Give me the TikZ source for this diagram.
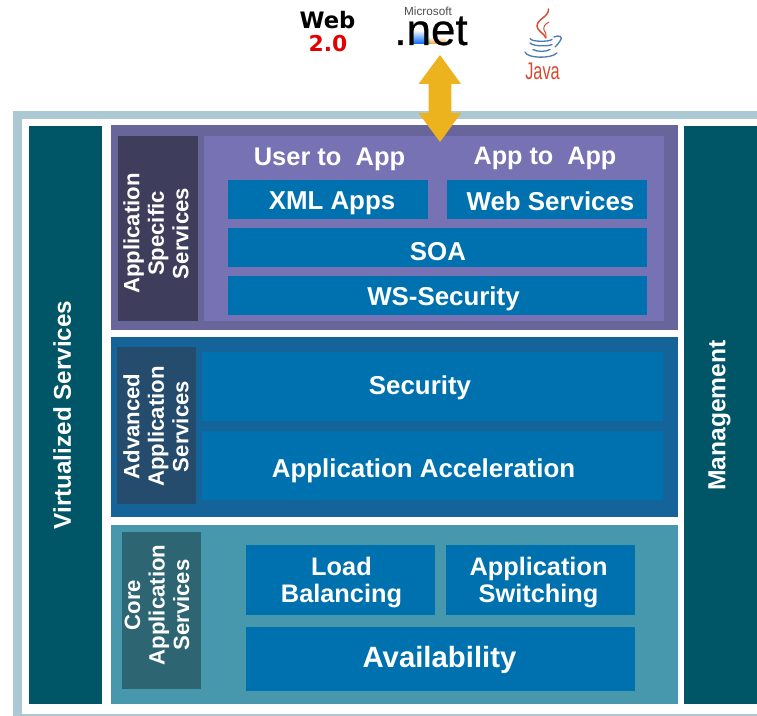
\documentclass[tikz,border=0pt]{standalone}
\usepackage{fontspec}
\setmainfont{Liberation Sans}
\newfontfamily\webfont{DejaVu Sans}
\newfontfamily\netfont[FakeBold=0.5]{Liberation Sans}
\definecolor{frameblue}{HTML}{ABC8D3}
\definecolor{sideteal}{HTML}{005566}
\definecolor{purpleband}{HTML}{68659A}
\definecolor{purpledark}{HTML}{3E3D5C}
\definecolor{purplelight}{HTML}{7672B3}
\definecolor{blueband}{HTML}{146399}
\definecolor{bluedark}{HTML}{254B6D}
\definecolor{tealband}{HTML}{4797AD}
\definecolor{tealdark}{HTML}{2D6573}
\definecolor{boxblue}{HTML}{0071AF}
\definecolor{arrowgold}{HTML}{ECB31E}
\definecolor{javared}{HTML}{D8492F}
\definecolor{javablue}{HTML}{4C7CB0}
\tikzset{
	txt/.style={text=white, font=\bfseries\fontsize{#1}{#1}\selectfont, align=center, inner sep=0pt, text depth=0pt},
	sidetxt/.style={text=white, font=\bfseries\fontsize{16.6}{18.4}\selectfont, align=center, inner sep=0pt, rotate=90},
	logotxt/.style={font=\webfont\bfseries\fontsize{#1}{#1}\selectfont, inner sep=0pt, text depth=0pt},
	steam/.style={draw=javared, line cap=round},
	cup/.style={draw=javablue, line cap=round, line width=1pt},
}
\begin{document}
\begin{tikzpicture}[x=0.75pt, y=-0.75pt]
	\useasboundingbox (0, 0) rectangle (757, 716);
	
	%%%%% FRAME %%%%%
	\fill[frameblue] (13.3, 111) rectangle (757, 716);
	\fill[white] (21.7, 119) rectangle (757, 713.5);
	
	%%%%% SIDE BARS %%%%%
	\fill[sideteal] (29, 126) rectangle (102, 704);
	\fill[sideteal] (684, 126) rectangle (757, 704);
	\node[txt=18.2, rotate=90] (virtual) at (62, 415) {Virtualized Services};
	\node[txt=18.5, rotate=90] (manage) at (717, 415.5) {Management};
	
	%%%%% APPLICATION SPECIFIC %%%%%
	\fill[purpleband] (111, 125) rectangle (678, 330);
	\fill[purpledark] (118, 136) rectangle (198, 321);
	\fill[purplelight] (204, 136) rectangle (664, 321);
	\node[sidetxt] (specific) at (156, 233.5) {Application\\Specific\\Services};
	\node[txt=19.1] (user) at (329.5, 157) {User to~~App};
	\node[txt=18.9] (app) at (545, 156) {App to~~App};
	\fill[boxblue] (228, 180) rectangle (428, 219);
	\fill[boxblue] (447, 180) rectangle (647, 219);
	\fill[boxblue] (228, 228) rectangle (647, 267);
	\fill[boxblue] (228, 276) rectangle (647, 315);
	\node[txt=19.4] (xml) at (332, 200.5) {XML Apps};
	\node[txt=19.4] (webserv) at (550.5, 201) {Web Services};
	\node[txt=19.4] (soa) at (438, 251) {SOA};
	\node[txt=19.4] (wssec) at (443.5, 296) {WS-Security};
	
	%%%%% ADVANCED %%%%%
	\fill[blueband] (111, 337) rectangle (678, 517);
	\fill[bluedark] (117, 347) rectangle (196, 504);
	\fill[boxblue] (202, 352) rectangle (663, 421);
	\fill[boxblue] (202, 431) rectangle (663, 500);
	\node[sidetxt] (advanced) at (156, 426.5) {Advanced\\Application\\Services};
	\node[txt=19.4] (security) at (420, 385) {Security};
	\node[txt=19.4] (accel) at (423.5, 468) {Application Acceleration};
	
	%%%%% CORE %%%%%
	\fill[tealband] (111, 525) rectangle (678, 704);
	\fill[tealdark] (122, 532) rectangle (201, 689);
	\fill[boxblue] (246, 545) rectangle (435, 615);
	\fill[boxblue] (446, 545) rectangle (635, 615);
	\fill[boxblue] (246, 627) rectangle (635, 691);
	\node[sidetxt] (core) at (157, 605) {Core\\Application\\Services};
	\node[txt=19, font=\bfseries\fontsize{19}{20.3}\selectfont] (load) at (341.5, 580) {Load\\Balancing};
	\node[txt=19, font=\bfseries\fontsize{19}{20.3}\selectfont] (switch) at (538.5, 580) {Application\\Switching};
	\node[txt=22] (avail) at (439.5, 657) {Availability};
	
	%%%%% ARROW %%%%%
	\fill[arrowgold] (440, 55) -- (461, 84) -- (451.3, 84) -- (451.3, 113) -- (461, 113)
		-- (440, 142) -- (418.5, 113) -- (428.7, 113) -- (428.7, 84) -- (418.5, 84) -- cycle;
	
	%%%%% WEB 2.0 %%%%%
	\node[logotxt=17] (web) at (327.5, 20) {Web};
	\node[logotxt=16.4, text=red!90!black] (two) at (328, 43) {2.0};
	
	%%%%% .NET %%%%%
	\shade[bottom color=blue!60!cyan, top color=white] (413, 30) rectangle (425, 44);
	\shade[bottom color=green!60!black!70, top color=white] (425, 36) rectangle (430, 44);
	\shade[bottom color=orange!80, top color=white] (430, 37) rectangle (446, 44);
	\node[font=\fontsize{8.8}{8.8}\selectfont, text=black!70, inner sep=0pt, text depth=0pt] (ms) at (428, 11.5) {Microsoft};
	\node[font=\netfont\fontsize{33}{33}\selectfont, inner sep=0pt, text height=15pt, text depth=0pt, anchor=base] (net) at (431, 45) {.net};
	
	%%%%% JAVA %%%%%
	\draw[steam, line width=1.1pt] (548.5, 9) .. controls (549, 17) and (537, 19) .. (537, 26) .. controls (537, 31) and (544, 33) .. (546, 38);
	\draw[steam, line width=0.7pt] (549, 22) .. controls (545, 24) and (543, 27) .. (544, 30) .. controls (545, 33) and (547, 34) .. (546, 37);
	\draw[cup] (530, 38.5) .. controls (531, 42) and (549, 42) .. (552, 39.5);
	\draw[cup] (530, 43) .. controls (533, 46.5) and (548, 46.5) .. (552, 44.5);
	\draw[cup] (533, 49.5) .. controls (537, 52) and (546, 52) .. (550, 49.5);
	\draw[cup] (525, 52) .. controls (527, 58.5) and (551, 59) .. (557, 53);
	\draw[cup] (554, 37) .. controls (559, 34.5) and (564, 37) .. (560, 41) .. controls (559, 43) and (557, 45) .. (555, 47);
	\node[font=\fontsize{18}{18}\selectfont, text=javared, inner sep=0pt, text depth=0pt] (java) at (542.5, 71.5) {\scalebox{0.68}[1]{Java}};
\end{tikzpicture}
\end{document}
